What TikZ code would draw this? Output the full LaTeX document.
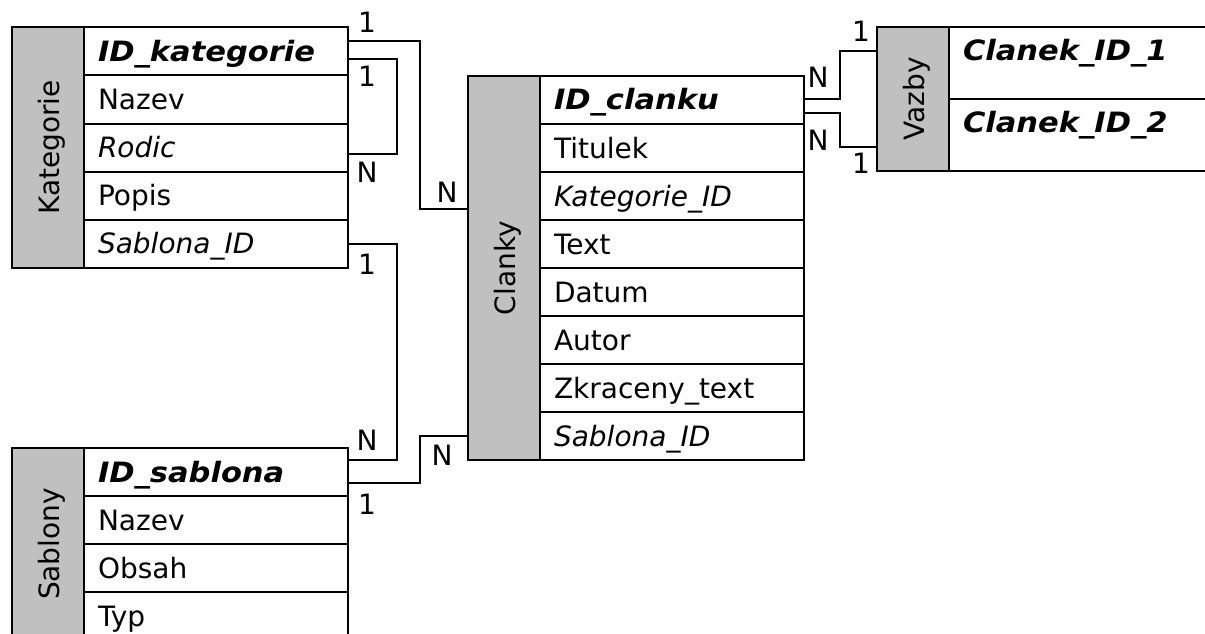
\documentclass[tikz,border=0pt]{standalone}
\usepackage{fontspec}
\setmainfont{DejaVu Sans}[BoldItalicFeatures={FakeStretch=1.09}]
\usepackage{tikz}
\usetikzlibrary{positioning}
\definecolor{titlegray}{RGB}{192,192,192}
\newcommand{\tabfont}{\fontsize{28}{34}\selectfont}
\newcommand{\tabletitle}[1]{\rotatebox{90}{\raisebox{0pt}[23pt][-3pt]{#1}}}
\tikzset{
  title/.style = {rectangle, draw, line width=2pt, fill=titlegray, minimum width=72pt,
    inner sep=0pt, outer sep=0pt, anchor=north west, font=\tabfont},
  field/.style = {rectangle, draw, line width=2pt, fill=white, text width=236pt,
    inner xsep=14pt, inner ysep=0pt, minimum height=48pt, align=left, outer sep=0pt,
    text height=20pt, text depth=0pt, font=\tabfont},
  fkey/.style = {field, font=\tabfont\itshape},
  key/.style = {field, font=\tabfont\bfseries\itshape},
  card/.style = {inner sep=0pt, text height=20pt, text depth=0pt, font=\tabfont},
  link/.style = {line width=2pt}
}
\begin{document}
\begin{tikzpicture}[x=1pt, y=-1pt, node distance=0pt]

\path[use as bounding box, fill=white] (0,0) rectangle (1205,634);

% Kategorie
\node[title, minimum height=240pt] (kat) at (12,27.5) {\tabletitle{Kategorie}};
\node[key, anchor=north west] (katid) at (kat.north east) {ID\_kategorie};
\node[field, below=of katid] (katnazev) {Nazev};
\node[fkey, below=of katnazev] (katrodic) {Rodic};
\node[field, below=of katrodic] (katpopis) {Popis};
\node[fkey, below=of katpopis] (katsablona) {Sablona\_ID};

% Sablony
\node[title, minimum height=192pt] (sab) at (12,448) {\tabletitle{Sablony}};
\node[key, anchor=north west] (sabid) at (sab.north east) {ID\_sablona};
\node[field, below=of sabid] (sabnazev) {Nazev};
\node[field, below=of sabnazev] (sabobsah) {Obsah};
\node[field, below=of sabobsah] (sabtyp) {Typ};

% Clanky
\node[title, minimum height=384pt] (cla) at (468,76) {\tabletitle{Clanky}};
\node[key, anchor=north west] (claid) at (cla.north east) {ID\_clanku};
\node[field, below=of claid] (clatitulek) {Titulek};
\node[fkey, below=of clatitulek] (clakat) {Kategorie\_ID};
\node[field, below=of clakat] (clatext) {Text};
\node[field, below=of clatext] (cladatum) {Datum};
\node[field, below=of cladatum] (claautor) {Autor};
\node[field, below=of claautor] (clazkr) {Zkraceny\_text};
\node[fkey, below=of clazkr] (clasablona) {Sablona\_ID};

% Vazby
\node[title, minimum height=144pt] (vaz) at (877,27) {\tabletitle{Vazby}};
\node[key, anchor=north west, minimum height=72pt, text depth=26pt] (vazid1) at (vaz.north east) {Clanek\_ID\_1};
\node[key, below=of vazid1, minimum height=72pt, text depth=26pt] (vazid2) {Clanek\_ID\_2};

% vazby
\draw[link] ([yshift=10.5pt]katid.east) -- ++(72,0) |- ([yshift=59pt]cla.west);
\draw[link] ([yshift=-7.5pt]katid.east) -- ++(49,0) |- ([yshift=-6.5pt]katrodic.east);
\draw[link] (katsablona.east) -- ++(49,0) |- ([yshift=12pt]sabid.east);
\draw[link] ([yshift=-11pt]sabid.east) -- ++(72,0) |- ([yshift=24pt]cla.south west);
\draw[link] ([yshift=1pt]claid.east) -- ++(36,0) |- ([yshift=48pt]vaz.west);
\draw[link] ([yshift=-13pt]claid.east) -- ++(36,0) |- ([yshift=-48pt]vaz.west);

% kardinality
\node[card] (k1) at (367,23) {1};
\node[card] (kn) at (447,192) {N};
\node[card] (r1) at (367,76) {1};
\node[card] (rn) at (367,172) {N};
\node[card] (s1) at (367,264) {1};
\node[card] (sn) at (367,440) {N};
\node[card] (t1) at (367,504) {1};
\node[card] (tn) at (442,455) {N};
\node[card] (an) at (818,78) {N};
\node[card] (a1) at (861,32) {1};
\node[card] (bn) at (818,140) {N};
\node[card] (b1) at (861,163) {1};

\end{tikzpicture}
\end{document}
